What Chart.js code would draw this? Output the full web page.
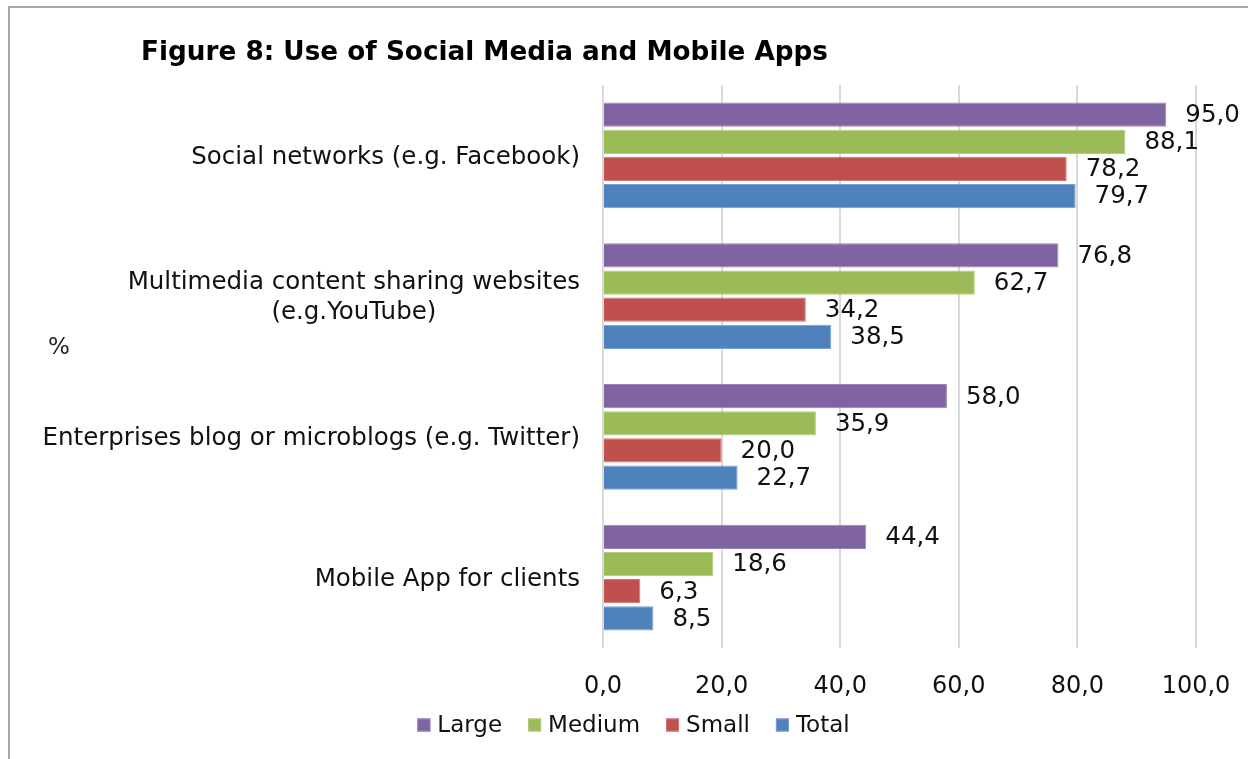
<!DOCTYPE html>
<html>
<head>
<meta charset="utf-8">
<script src="https://cdn.jsdelivr.net/npm/chart.js@4/dist/chart.umd.min.js"></script>
<style>
html,body{margin:0;padding:0;background:#fff;}
#wrap{position:relative;width:1248px;height:759px;}
</style>
</head>
<body>
<div id="wrap"><canvas id="c" width="1248" height="759"></canvas></div>
<script>
const categories = [
  'Social networks (e.g. Facebook)',
  ['Multimedia content sharing websites', '(e.g.YouTube)'],
  'Enterprises blog or microblogs (e.g. Twitter)',
  'Mobile App for clients'
];
const seriesNames = ['Large', 'Medium', 'Small', 'Total'];
const large  = [95.0, 76.8, 58.0, 44.4];
const medium = [88.1, 62.7, 35.9, 18.6];
const small  = [78.2, 34.2, 20.0, 6.3];
const total  = [79.7, 38.5, 22.7, 8.5];
const xTicks = [0, 20, 40, 60, 80, 100];
const titleText = 'Figure 8: Use of Social Media and Mobile Apps';
const unitText = '%';

const FONT = "'DejaVu Sans', Verdana, sans-serif";
const COLORS = ['#8064A2', '#9BBB59', '#C0504D', '#4F81BD'];
const BORDERS = ['#9a84b8', '#b1cc7c', '#d07a77', '#7aa0cf'];
const fmt = v => v.toFixed(1).replace('.', ',');

const decor = {
  id: 'decor',
  beforeDraw(chart) {
    const ctx = chart.ctx;
    ctx.save();
    ctx.fillStyle = '#fff';
    ctx.fillRect(0, 0, chart.width, chart.height);
    ctx.strokeStyle = '#a6a6a6';
    ctx.lineWidth = 2;
    ctx.beginPath();
    ctx.moveTo(9, 759); ctx.lineTo(9, 7); ctx.lineTo(1248, 7);
    ctx.stroke();
    ctx.restore();
  },
  afterDraw(chart) {
    const ctx = chart.ctx;
    ctx.save();
    // title
    ctx.fillStyle = '#000';
    ctx.font = "bold 26.3px 'DejaVu Sans', sans-serif";
    ctx.textAlign = 'left';
    ctx.textBaseline = 'alphabetic';
    ctx.fillText(titleText, 141, 60, 687);
    // unit
    ctx.font = '23px ' + FONT;
    ctx.fillStyle = '#222';
    ctx.textBaseline = 'middle';
    ctx.fillText(unitText, 48, 348);
    // category labels
    const ys = chart.scales.y;
    ctx.font = '24.5px ' + FONT;
    ctx.fillStyle = '#111';
    const right = 580;
    categories.forEach((cat, i) => {
      const lines = Array.isArray(cat) ? cat : [cat];
      const yc = ys.getPixelForValue(i) + 2;
      const lh = 30;
      const maxW = Math.max(...lines.map(l => ctx.measureText(l).width));
      const cx = right - maxW / 2;
      ctx.textAlign = 'center';
      lines.forEach((l, k) => {
        const y = yc + (k - (lines.length - 1) / 2) * lh;
        ctx.fillText(l, cx, y);
      });
    });
    // data labels
    ctx.textAlign = 'left';
    ctx.textBaseline = 'middle';
    ctx.fillStyle = '#111';
    ctx.font = '24.5px ' + FONT;
    chart.data.datasets.forEach((ds, di) => {
      const meta = chart.getDatasetMeta(di);
      meta.data.forEach((bar, i) => {
        ctx.fillText(fmt(ds.data[i]), bar.x + 19, bar.y + 1);
      });
    });
    // legend
    ctx.font = '23px ' + FONT;
    const box = 13, gapBox = 7, gapItem = 26;
    const widths = seriesNames.map(n => box + gapBox + ctx.measureText(n).width);
    const totalW = widths.reduce((a, b) => a + b, 0) + gapItem * (seriesNames.length - 1);
    let lx = 633.5 - totalW / 2;
    const ly = 725;
    seriesNames.forEach((n, i) => {
      ctx.fillStyle = COLORS[i];
      ctx.fillRect(lx, ly - box / 2, box, box);
      ctx.strokeStyle = BORDERS[i];
      ctx.lineWidth = 1;
      ctx.strokeRect(lx + 0.5, ly - box / 2 + 0.5, box - 1, box - 1);
      ctx.fillStyle = '#111';
      ctx.textAlign = 'left';
      ctx.textBaseline = 'middle';
      ctx.fillText(n, lx + box + gapBox, ly + 1);
      lx += widths[i] + gapItem;
    });
    ctx.restore();
  }
};

new Chart(document.getElementById('c'), {
  type: 'bar',
  data: {
    labels: categories.map(c => Array.isArray(c) ? c.join(' ') : c),
    datasets: [
      { label: seriesNames[0], data: large,  backgroundColor: COLORS[0], borderColor: BORDERS[0], borderWidth: 1 },
      { label: seriesNames[1], data: medium, backgroundColor: COLORS[1], borderColor: BORDERS[1], borderWidth: 1 },
      { label: seriesNames[2], data: small,  backgroundColor: COLORS[2], borderColor: BORDERS[2], borderWidth: 1 },
      { label: seriesNames[3], data: total,  backgroundColor: COLORS[3], borderColor: BORDERS[3], borderWidth: 1 }
    ]
  },
  options: {
    indexAxis: 'y',
    responsive: false,
    animation: false,
    devicePixelRatio: 1,
    datasets: { bar: { categoryPercentage: 0.771, barPercentage: 0.89 } },
    layout: { padding: { left: 603, right: 52, top: 85, bottom: 0 } },
    scales: {
      y: { display: false },
      x: {
        min: 0, max: 100,
        afterBuildTicks(scale) { scale.ticks = xTicks.map(v => ({ value: v })); },
        afterFit(scale) {
          scale.height = 759 - 648;
          scale.paddingLeft = 0;
          scale.paddingRight = 0;
        },
        ticks: {
          callback: v => fmt(v),
          font: { family: FONT, size: 24 },
          color: '#111',
          padding: 24
        },
        grid: { color: '#d9d9d9', lineWidth: 2, drawTicks: false },
        border: { display: false }
      }
    },
    plugins: {
      legend: { display: false },
      tooltip: { enabled: false },
      title: { display: false }
    }
  },
  plugins: [decor]
});
</script>
</body>
</html>
